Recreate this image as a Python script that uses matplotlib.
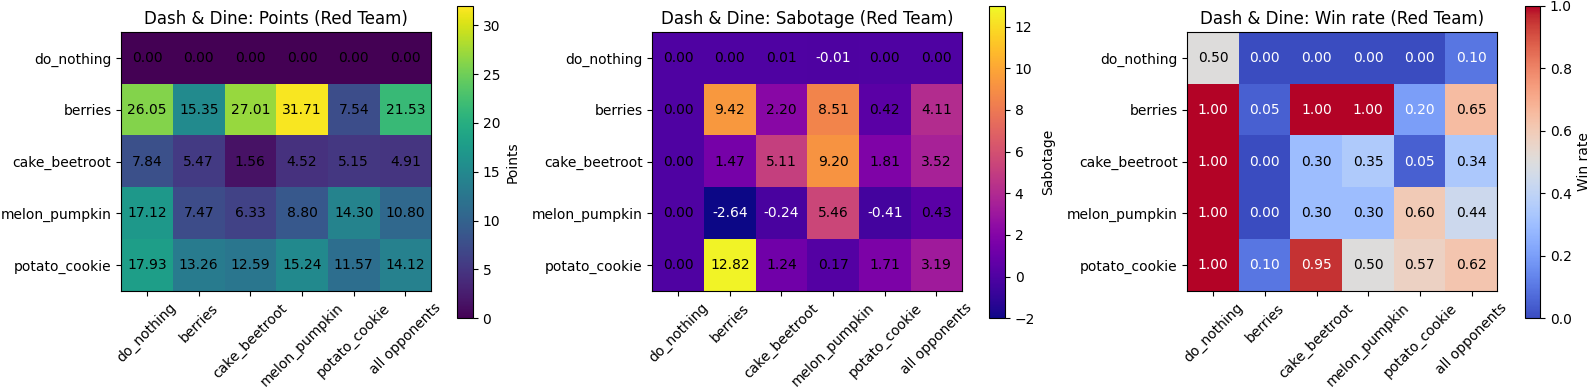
import numpy as np
import matplotlib.pyplot as plt

# strategies of the red team (rows) and opponents (columns)
rows = ["do_nothing", "berries", "cake_beetroot", "melon_pumpkin", "potato_cookie"]
cols = ["do_nothing", "berries", "cake_beetroot", "melon_pumpkin", "potato_cookie", "all opponents"]

points = np.array([
    [0.00, 0.00, 0.00, 0.00, 0.00, 0.00],
    [26.05, 15.35, 27.01, 31.71, 7.54, 21.53],
    [7.84, 5.47, 1.56, 4.52, 5.15, 4.91],
    [17.12, 7.47, 6.33, 8.80, 14.30, 10.80],
    [17.93, 13.26, 12.59, 15.24, 11.57, 14.12],
])

sabotage = np.array([
    [0.00, 0.00, 0.01, -0.01, 0.00, 0.00],
    [0.00, 9.42, 2.20, 8.51, 0.42, 4.11],
    [0.00, 1.47, 5.11, 9.20, 1.81, 3.52],
    [0.00, -2.64, -0.24, 5.46, -0.41, 0.43],
    [0.00, 12.82, 1.24, 0.17, 1.71, 3.19],
])

win_rate = np.array([
    [0.50, 0.00, 0.00, 0.00, 0.00, 0.10],
    [1.00, 0.05, 1.00, 1.00, 0.20, 0.65],
    [1.00, 0.00, 0.30, 0.35, 0.05, 0.34],
    [1.00, 0.00, 0.30, 0.30, 0.60, 0.44],
    [1.00, 0.10, 0.95, 0.50, 0.57, 0.62],
])

W, H = 1590, 389
fig = plt.figure(figsize=(W / 100, H / 100), dpi=100)


def px_axes(x0, y0, x1, y1):
    # pixel box (top-origin) -> figure fraction
    return fig.add_axes([x0 / W, (H - y1) / H, (x1 - x0) / W, (y1 - y0) / H])


panels = [
    ("Points", points, "viridis", 0, 32, lambda v: "black", (121.2, 431.2), (457.3, 472.8)),
    ("Sabotage", sabotage, "plasma", -2, 13, lambda v: "white" if v < 0 else "black",
     (652.3, 962.3), (989.3, 1005)),
    ("Win rate", win_rate, "coolwarm", 0, 1,
     lambda v: "white" if (v < 0.25 or v > 0.75) else "black", (1187.4, 1497.4), (1524.5, 1540)),
]

for name, data, cmap, vmin, vmax, txtcol, (ax0, ax1), (cb0, cb1) in panels:
    ax = px_axes(ax0, 32.3, ax1, 291)
    cax = px_axes(cb0, 5.7, cb1, 318.3)
    im = ax.imshow(data, cmap=cmap, vmin=vmin, vmax=vmax, aspect="auto")
    ax.set_xticks(range(len(cols)))
    ax.set_xticklabels(cols, rotation=45)
    ax.set_yticks(range(len(rows)))
    ax.set_yticklabels(rows)
    ax.set_title(f"Dash & Dine: {name} (Red Team)", fontsize=12)
    for i in range(data.shape[0]):
        for j in range(data.shape[1]):
            v = data[i, j]
            ax.text(j, i, f"{v:.2f}", ha="center", va="center", color=txtcol(v), fontsize=10)
    cb = fig.colorbar(im, cax=cax)
    cb.set_label(name)

plt.savefig("out.png", dpi=100)
